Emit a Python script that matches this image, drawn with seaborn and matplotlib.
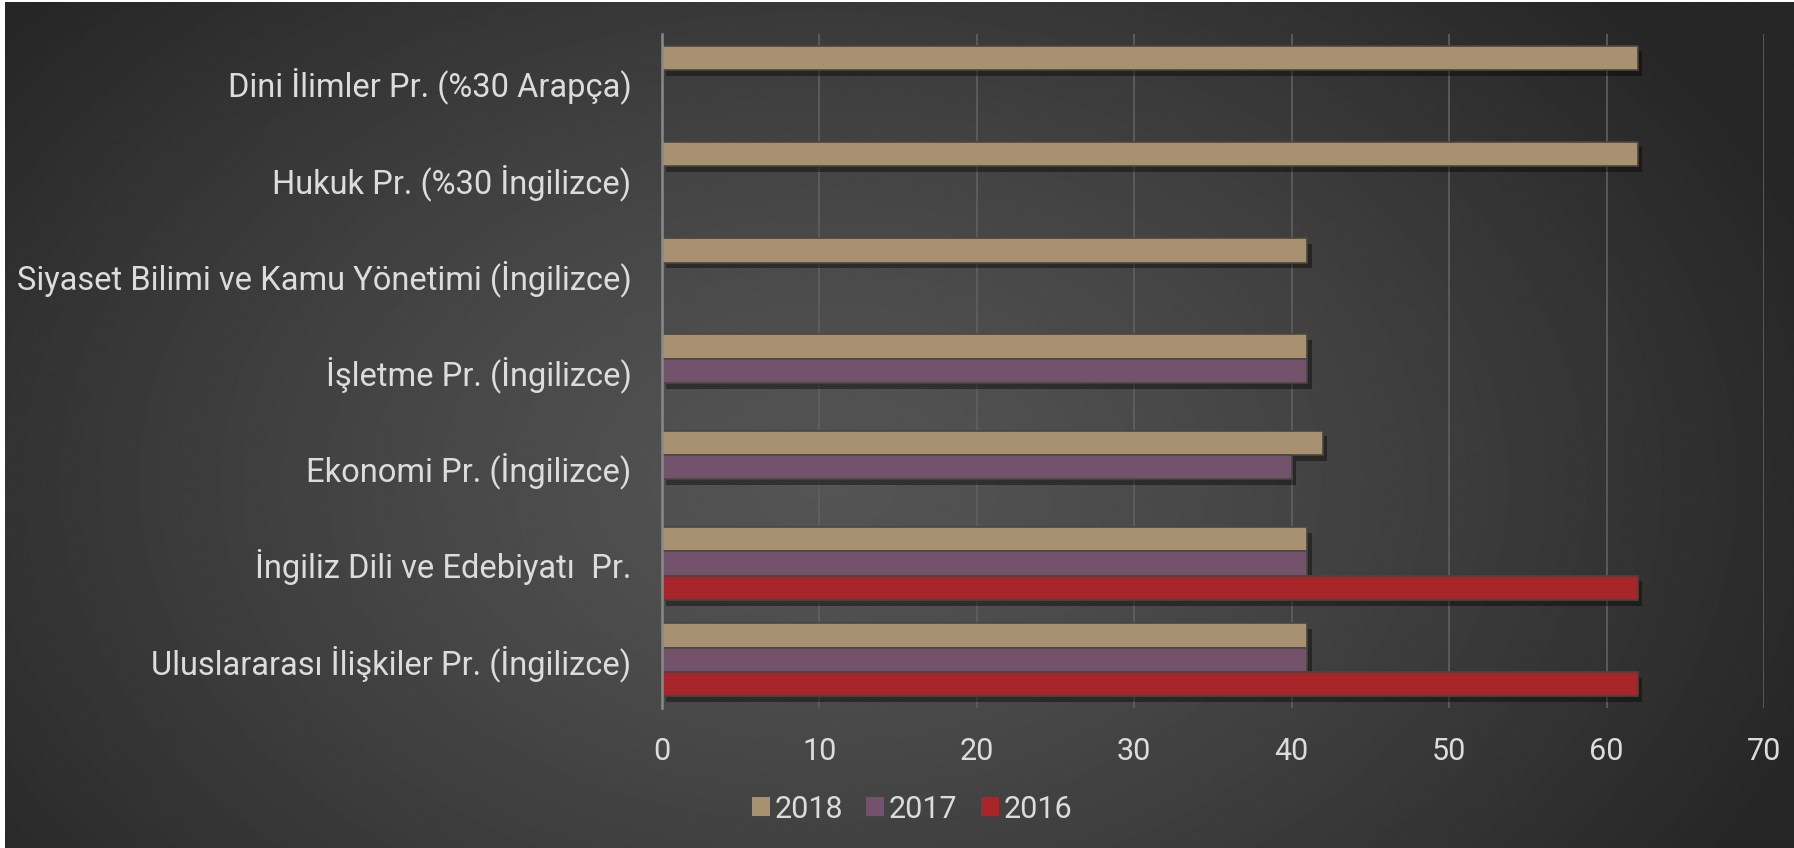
import matplotlib

matplotlib.use("Agg")

import matplotlib.patheffects as pe
import matplotlib.pyplot as plt
import numpy as np
import pandas as pd
import seaborn as sns

categories = [
    "Dini İlimler Pr. (%30 Arapça)",
    "Hukuk Pr. (%30 İngilizce)",
    "Siyaset Bilimi ve Kamu Yönetimi (İngilizce)",
    "İşletme Pr. (İngilizce)",
    "Ekonomi Pr. (İngilizce)",
    "İngiliz Dili ve Edebiyatı  Pr.",
    "Uluslararası İlişkiler Pr. (İngilizce)",
]
years = ["2018", "2017", "2016"]
values_2018 = [62, 62, 41, 41, 42, 41, 41]
values_2017 = [np.nan, np.nan, np.nan, 41, 40, 41, 41]
values_2016 = [np.nan, np.nan, np.nan, np.nan, np.nan, 62, 62]
colors = ["#a89170", "#73536b", "#a8252a"]
x_ticks = [0, 10, 20, 30, 40, 50, 60, 70]

rows = []
for year, vals in zip(years, [values_2018, values_2017, values_2016]):
    for cat, v in zip(categories, vals):
        rows.append({"program": cat, "year": year, "value": v})
df = pd.DataFrame(rows).dropna()

sns.set_style("dark")
plt.rcParams["font.family"] = ["Roboto", "DejaVu Sans"]
text_color = "#dcdcdc"

W, H = 1794, 848
fig = plt.figure(figsize=(W / 100, H / 100), dpi=100, facecolor="white")

# dark radial background
bg = fig.add_axes([5 / W, 0, 1 - 5 / W, 1 - 2 / H], zorder=-5)
yy, xx = np.mgrid[0:H, 0:W]
d = np.sqrt(((xx - 820) / 1050) ** 2 + ((yy - 480) / 720) ** 2)
shade = 0.33 - 0.18 * np.clip(d, 0, 1) ** 1.3
bg.imshow(shade, cmap="gray", vmin=0, vmax=1, aspect="auto", interpolation="bilinear")
bg.axis("off")

ax = fig.add_axes([662 / W, 1 - 708 / H, (1764 - 662) / W, (708 - 34) / H])
ax.set_facecolor("none")

sns.barplot(
    data=df,
    x="value",
    y="program",
    hue="year",
    order=categories,
    hue_order=years,
    palette=colors,
    saturation=1,
    orient="h",
    width=0.76,
    errorbar=None,
    edgecolor="#4a463e",
    linewidth=1.2,
    ax=ax,
    legend=True,
)

for patch in ax.patches:
    patch.set_path_effects([pe.SimplePatchShadow(offset=(3, -4), shadow_rgbFace="black", alpha=0.4), pe.Normal()])

ax.set_xlim(0, 70)
ax.set_ylim(6.5, -0.5)
ax.set_xticks(x_ticks)
ax.set_xticklabels([str(t) for t in x_ticks])
ax.set_xlabel("")
ax.set_ylabel("")
ax.grid(axis="x", color="#606060", linewidth=1.2)
ax.grid(axis="y", visible=False)
ax.set_axisbelow(True)
for side in ["top", "right", "bottom"]:
    ax.spines[side].set_visible(False)
ax.spines["left"].set_color("#8a8a8a")
ax.spines["left"].set_linewidth(1.8)
ax.tick_params(axis="x", colors=text_color, labelsize=22, length=7, color="#606060", pad=14)
ax.tick_params(axis="y", colors=text_color, labelsize=23.5, length=0, pad=22)

ax.get_legend().remove()
handles, labels = ax.get_legend_handles_labels()
leg = fig.legend(
    handles[:3],
    labels[:3],
    loc="center",
    bbox_to_anchor=(912 / W, 1 - 809 / H),
    ncol=3,
    frameon=False,
    handlelength=0.6,
    handleheight=0.6,
    handletextpad=0.15,
    columnspacing=0.75,
    prop={"family": ["Roboto", "DejaVu Sans"], "size": 22},
)
for t in leg.get_texts():
    t.set_color(text_color)
for h in leg.legend_handles:
    h.set_path_effects([])
    h.set_edgecolor("none")

fig.savefig("out.png", dpi=100, facecolor="white")
